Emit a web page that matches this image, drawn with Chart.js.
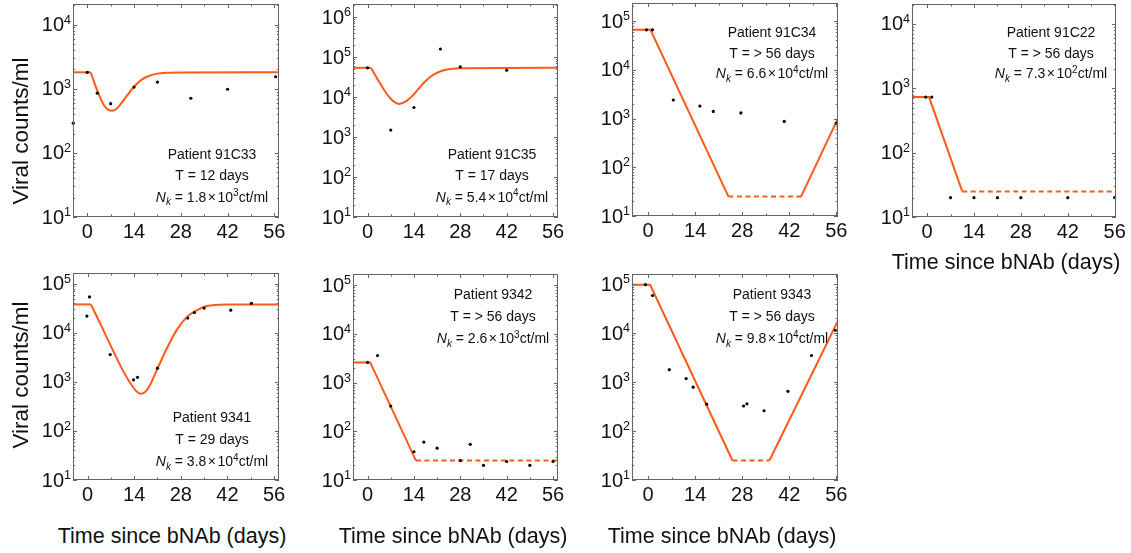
<!DOCTYPE html>
<html>
<head>
<meta charset="utf-8">
<script src="https://cdn.jsdelivr.net/npm/chart.js@4.4.1/dist/chart.umd.min.js"></script>
<style>
  html, body { margin: 0; padding: 0; background: #fff; }
  #wrap { position: relative; width: 1131px; height: 553px; overflow: hidden; background: #fff; }
  #wrap canvas { position: absolute; }
  .ttl { position: absolute; font-family: "Liberation Sans", Arial, Helvetica, sans-serif; color: #111;
         white-space: nowrap; line-height: 1; transform: translate(-50%, -50%); }
  .ttl.v { transform: translate(-50%, -50%) rotate(-90deg); }
</style>
</head>
<body>
<div id="wrap"></div>
<script>
// ---------- values ----------
const patients   = ['91C33', '91C35', '91C34', '91C22', '9341', '9342', '9343'];
const halfLives  = ['12 days', '17 days', '> 56 days', '> 56 days', '29 days', '> 56 days', '> 56 days'];
const nkMantissa = [1.8, 5.4, 6.6, 7.3, 3.8, 2.6, 9.8];
const nkExponent = [3, 4, 4, 2, 4, 3, 4];
const NK = nkMantissa.map((m, i) => m * Math.pow(10, nkExponent[i]));
const FLOOR = 25;                    // detection floor of the model curve
const dayTicks = [0, 14, 28, 42, 56];

// Patient 91C33
const days91C33   = [-4.2, 0, 3, 7, 14, 21, 31, 42, 56.4];
const counts91C33 = [290, 1800, 850, 583, 1060, 1270, 710, 980, 1535];
const fitDays91C33   = [[-4.3, 1], [1, 3, 5, 6.3, 7.4, 8.6, 10, 12, 14, 16, 18, 21, 24, 28, 57.4]];
const fitCounts91C33 = [[NK[0], NK[0]], [NK[0], 933, 550, 468, 452, 479, 575, 794, 1072, 1349, 1549, 1718, 1778, 1795, NK[0]]];

// Patient 91C35
const days91C35   = [0, 7, 14, 22, 28, 42];
const counts91C35 = [54000, 1500, 5500, 160000, 57000, 47000];
const fitDays91C35   = [[-4.4, 1], [1, 3, 5, 7, 8.3, 9.5, 10.8, 12.8, 15, 17, 19, 21, 23, 25, 28, 57.5]];
const fitCounts91C35 = [[NK[1], NK[1]], [NK[1], 28200, 15100, 9120, 7410, 6760, 7240, 9330, 14800, 22900, 32400, 40700, 46800, 50700, 53100, NK[1]]];

// Patient 91C34
const days91C34   = [-0.5, 1.3, 7.5, 15.4, 19.4, 27.6, 40.5, 56];
const counts91C34 = [66000, 66000, 2400, 1800, 1400, 1300, 870, 800];
const fitDays91C34   = [[-4.8, 0.7, 23.9], [23.9, 45.5], [45.5, 56.5]];
const fitCounts91C34 = [[NK[2], NK[2], FLOOR], [FLOOR, FLOOR], [FLOOR, 1000]];

// Patient 91C22
const days91C22   = [-0.4, 1.4, 7, 14, 21, 28, 42, 56];
const counts91C22 = [730, 730, 20, 20, 20, 20, 20, 20];
const fitDays91C22   = [[-4.5, 0.6, 10.5], [10.5, 56.4]];
const fitCounts91C22 = [[NK[3], NK[3], FLOOR], [FLOOR, FLOOR]];

// Patient 9341
const days9341   = [-0.2, 0.6, 6.8, 13.8, 15, 21, 30.1, 32.1, 35, 43, 49.2];
const counts9341 = [22000, 54000, 3600, 1100, 1240, 1900, 20000, 26000, 32000, 29000, 40000];
const fitDays9341   = [[-4.4, 1], [1, 3.8, 6.8, 10.8, 13.8, 15, 16, 17.2, 18.3, 20.8, 23.8, 26.8, 29.8, 32.8, 35.8, 42, 57.5]];
const fitCounts9341 = [[NK[4], NK[4]], [NK[4], 15500, 5750, 1620, 760, 617, 575, 617, 759, 1740, 4790, 11500, 20900, 28800, 35100, 37700, NK[4]]];

// Patient 9342
const days9342   = [0, 3, 7, 14, 17, 21, 28, 31, 35, 42, 49, 56];
const counts9342 = [2600, 3600, 330, 38, 60, 45, 25, 54, 20, 24, 20, 24];
const fitDays9342   = [[-4.4, 0.8, 14.6], [14.6, 57.5]];
const fitCounts9342 = [[NK[5], NK[5], FLOOR], [FLOOR, FLOOR]];

// Patient 9343
const days9343   = [-0.8, 1.3, 6.3, 11.3, 13.4, 17.4, 28.4, 29.4, 34.5, 41.6, 48.6, 55.7];
const counts9343 = [98000, 59000, 1800, 1180, 790, 355, 325, 360, 260, 650, 3500, 11500];
const fitDays9343   = [[-4.8, 0.6, 25.1], [25.1, 36.1], [36.1, 56.5]];
const fitCounts9343 = [[NK[6], NK[6], FLOOR], [FLOOR, FLOOR], [FLOOR, 18000]];

// ---------- layout & style ----------
const FONT   = '"Liberation Sans", Arial, Helvetica, sans-serif';
const ORANGE = '#ff5a16';
const FRAME  = '#646464';
const INK    = '#111';
const PAD = { l: 70, t: 6, r: 10, b: 34 };

// box: plot rectangle [left, top, right, bottom]; style per fit segment: 's' solid, 'c' smooth, 'd' dashed
const panels = [
  { box: [73, 4, 279, 217],  xr: [-4.28, 57.4], yTop: 4.32, note: { cx: 139, y0: 150, gap: 21.3 },
    days: days91C33, counts: counts91C33, fd: fitDays91C33, fc: fitCounts91C33, st: ['s', 'c'] },
  { box: [353, 4, 558, 217], xr: [-4.4, 57.5],  yTop: 6.33, note: { cx: 139, y0: 150, gap: 21.3 },
    days: days91C35, counts: counts91C35, fd: fitDays91C35, fc: fitCounts91C35, st: ['s', 'c'] },
  { box: [632, 3, 838, 216], xr: [-4.8, 56.5],  yTop: 5.37, note: { cx: 140, y0: 29, gap: 20.6 },
    days: days91C34, counts: counts91C34, fd: fitDays91C34, fc: fitCounts91C34, st: ['s', 'd', 's'] },
  { box: [912, 4, 1116, 217], xr: [-4.5, 56.4], yTop: 4.31, note: { cx: 139, y0: 28, gap: 20.6 },
    days: days91C22, counts: counts91C22, fd: fitDays91C22, fc: fitCounts91C22, st: ['s', 'd'] },
  { box: [73, 273, 279, 480], xr: [-4.37, 57.5], yTop: 5.22, note: { cx: 139, y0: 144, gap: 22 },
    days: days9341, counts: counts9341, fd: fitDays9341, fc: fitCounts9341, st: ['s', 'c'] },
  { box: [353, 274, 558, 480], xr: [-4.4, 57.5], yTop: 5.23, note: { cx: 140, y0: 19.5, gap: 22.4 },
    days: days9342, counts: counts9342, fd: fitDays9342, fc: fitCounts9342, st: ['s', 'd'] },
  { box: [632, 274, 838, 480], xr: [-4.8, 56.5], yTop: 5.21, note: { cx: 140, y0: 19.5, gap: 22.4 },
    days: days9343, counts: counts9343, fd: fitDays9343, fc: fitCounts9343, st: ['s', 'd', 's'] }
];

const toXY = (xs, ys) => xs.map((x, i) => ({ x: x, y: ys[i] }));

// frame, inward ticks, tick labels and the patient note
function decor(p, idx) {
  return {
    id: 'decor' + idx,
    afterDraw(chart) {
      const ctx = chart.ctx, a = chart.chartArea;
      const xs = chart.scales.x, ys = chart.scales.y;
      ctx.save();
      ctx.strokeStyle = FRAME;
      ctx.lineWidth = 1;
      ctx.strokeRect(a.left + 0.5, a.top + 0.5, a.right - a.left - 1, a.bottom - a.top - 1);

      ctx.beginPath();
      for (let d = 0; d <= 56; d += 7) {
        const px = Math.round(xs.getPixelForValue(d)) + 0.5;
        const len = d % 14 === 0 ? 4 : 2.5;
        ctx.moveTo(px, a.bottom); ctx.lineTo(px, a.bottom - len);
        ctx.moveTo(px, a.top);    ctx.lineTo(px, a.top + len);
      }
      for (let e = 1; e <= Math.ceil(p.yTop); e++) {
        for (let m = 1; m < 10; m++) {
          const v = m * Math.pow(10, e);
          if (v > ys.max) break;
          const py = Math.round(ys.getPixelForValue(v)) + 0.5;
          const len = m === 1 ? 4 : 2.2;
          ctx.moveTo(a.left, py);  ctx.lineTo(a.left + len, py);
          ctx.moveTo(a.right, py); ctx.lineTo(a.right - len, py);
        }
      }
      ctx.stroke();

      ctx.fillStyle = INK;
      ctx.font = '20px ' + FONT;
      ctx.textAlign = 'center';
      ctx.textBaseline = 'middle';
      dayTicks.forEach(d => ctx.fillText(String(d), xs.getPixelForValue(d), a.bottom + 15));

      for (let e = 1; e <= Math.floor(p.yTop); e++) {
        const py = ys.getPixelForValue(Math.pow(10, e));
        ctx.font = '12.5px ' + FONT;
        const ew = ctx.measureText(String(e)).width;
        ctx.textAlign = 'right';
        ctx.textBaseline = 'alphabetic';
        ctx.fillText(String(e), a.left - 2, py - 1);
        ctx.font = '20px ' + FONT;
        ctx.textBaseline = 'middle';
        ctx.fillText('10', a.left - 2 - ew, py + 1);
      }

      // patient note
      const cx = a.left + p.note.cx;
      const y1 = a.top + p.note.y0;
      ctx.font = '14px ' + FONT;
      ctx.textAlign = 'center';
      ctx.textBaseline = 'alphabetic';
      ctx.fillText('Patient ' + patients[idx], cx, y1 + 5);
      ctx.fillText('T = ' + halfLives[idx], cx, y1 + p.note.gap + 5);
      const pieces = [
        { t: 'N', f: 'italic 14px ', dy: 0, g: 0 },
        { t: 'k', f: 'italic 10px ', dy: 3.5, g: 0 },
        { t: ' = ' + nkMantissa[idx].toFixed(1), f: '14px ', dy: 0, g: 0 },
        { t: '\u00d7', f: '14px ', dy: 0, g: 1.5 },
        { t: '10', f: '14px ', dy: 0, g: 0 },
        { t: String(nkExponent[idx]), f: '10px ', dy: -5.5, g: 0 },
        { t: 'ct/ml', f: '14px ', dy: 0, g: 0 }
      ];
      let total = 0;
      pieces.forEach(pc => { ctx.font = pc.f + FONT; pc.w = ctx.measureText(pc.t).width; total += pc.w + 2 * pc.g; });
      let x = cx - total / 2;
      const base = y1 + 2 * p.note.gap + 5;
      ctx.textAlign = 'left';
      pieces.forEach(pc => {
        ctx.font = pc.f + FONT;
        x += pc.g;
        ctx.fillText(pc.t, x, base + pc.dy);
        x += pc.w + pc.g;
      });
      ctx.restore();
    }
  };
}

const wrap = document.getElementById('wrap');

panels.forEach((p, idx) => {
  const [l, t, r, b] = p.box;
  const cv = document.createElement('canvas');
  const W = (r - l) + PAD.l + PAD.r, H = (b - t) + PAD.t + PAD.b;
  cv.width = W; cv.height = H;
  cv.style.left = (l - PAD.l) + 'px';
  cv.style.top = (t - PAD.t) + 'px';
  cv.style.width = W + 'px';
  cv.style.height = H + 'px';
  wrap.appendChild(cv);

  const datasets = [{
    data: toXY(p.days, p.counts),
    showLine: false,
    pointRadius: 1.6,
    pointBackgroundColor: '#000',
    pointBorderWidth: 0,
    clip: false,
    order: 0
  }];
  p.fd.forEach((seg, k) => {
    const s = p.st[k];
    datasets.push({
      data: toXY(seg, p.fc[k]),
      showLine: true,
      borderColor: ORANGE,
      borderWidth: 2,
      borderDash: s === 'd' ? [5, 3.5] : [],
      cubicInterpolationMode: s === 'c' ? 'monotone' : 'default',
      tension: 0,
      pointRadius: 0,
      fill: false,
      order: 1
    });
  });

  new Chart(cv, {
    type: 'line',
    data: { datasets: datasets },
    options: {
      responsive: false,
      animation: false,
      devicePixelRatio: 1,
      events: [],
      layout: { padding: { left: PAD.l, top: PAD.t, right: PAD.r, bottom: PAD.b } },
      plugins: { legend: { display: false }, tooltip: { enabled: false } },
      scales: {
        x: { type: 'linear', display: false, min: p.xr[0], max: p.xr[1] },
        y: { type: 'logarithmic', display: false, min: 10, max: Math.pow(10, p.yTop) }
      }
    },
    plugins: [decor(p, idx)]
  });
});

// axis titles
function title(text, x, y, vertical, size) {
  const d = document.createElement('div');
  d.className = 'ttl' + (vertical ? ' v' : '');
  d.textContent = text;
  d.style.left = x + 'px';
  d.style.top = y + 'px';
  d.style.fontSize = size + 'px';
  wrap.appendChild(d);
}
title('Viral counts/ml', 21, 131, true, 22.5);
title('Viral counts/ml', 21, 375, true, 22.5);
title('Time since bNAb (days)', 1006, 263, false, 21.5);
title('Time since bNAb (days)', 172, 537, false, 21.5);
title('Time since bNAb (days)', 453, 537, false, 21.5);
title('Time since bNAb (days)', 722, 537, false, 21.5);
</script>
</body>
</html>
